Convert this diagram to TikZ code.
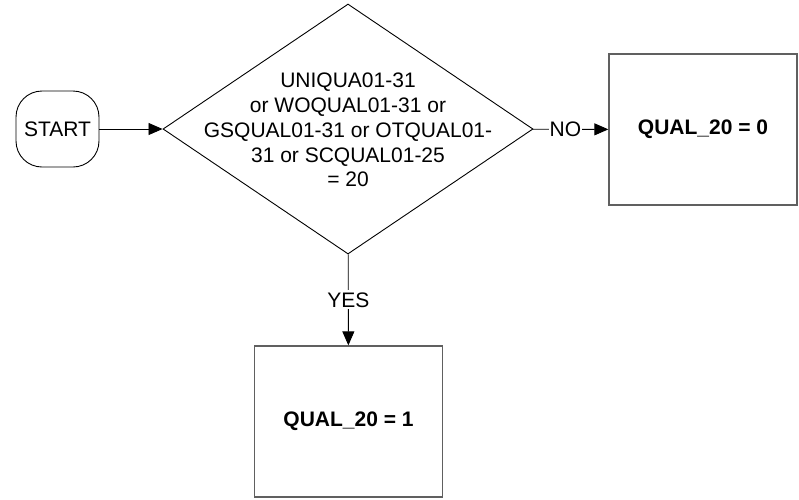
\documentclass[tikz,border=0pt]{standalone}
\usepackage{fontspec}
\setmainfont{Liberation Sans}
\usetikzlibrary{arrows.meta,shapes.geometric}
\definecolor{ink}{HTML}{000000}
\definecolor{edge}{HTML}{606060}
\tikzset{>={Triangle[length=14pt,width=12pt]},
  flow/.style={draw=ink,line width=0.9pt,->},
  txt/.style={font=\fontsize{21}{24.8}\selectfont},
  startbox/.style={draw=ink,line width=0.9pt,rounded corners=26pt,minimum width=83pt,minimum height=76pt,inner sep=0pt,txt},
  test/.style={draw=ink,line width=0.9pt,diamond,aspect=1.48,minimum width=370pt,minimum height=250pt,inner sep=0pt},
  result/.style={draw=edge,line width=1.3pt,minimum width=188pt,minimum height=151pt,inner sep=0pt,
    font=\fontsize{21}{24.8}\selectfont\bfseries},
  lab/.style={fill=white,inner sep=2pt,txt}}
\begin{document}
\begin{tikzpicture}[x=1pt,y=-1pt]
  \useasboundingbox (0,0) rectangle (799,499);
  \node[startbox] (start) at (57.5,129) {START};
  \node[test] (check) at (348,129) {};
  \node[txt,align=center] (checktext) at (348,130)
    {UNIQUA01-31\\or WOQUAL01-31 or\\GSQUAL01-31 or OTQUAL01-\\31 or SCQUAL01-25\\= 20};
  \node[result] (zero) at (703,129.5) {QUAL\_20 = 0};
  \node[result] (one) at (348.5,421.5) {QUAL\_20 = 1};
  \draw[flow] (start) -- (check);
  \draw[flow] (check) -- node[lab,pos=0.43,inner sep=1pt] {NO} (zero);
  \draw[flow] (check) -- node[lab] {YES} (one);
\end{tikzpicture}
\end{document}
